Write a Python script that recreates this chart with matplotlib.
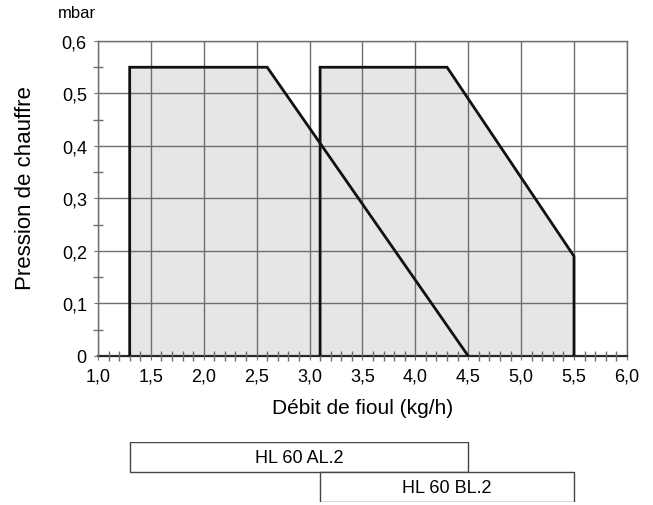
import numpy as np
import matplotlib
matplotlib.use('Agg')
import matplotlib.pyplot as plt
from matplotlib.patches import Polygon, Rectangle
from matplotlib.ticker import MultipleLocator

plt.rcParams['font.family'] = ['Liberation Sans', 'DejaVu Sans']

# working ranges (flow kg/h, pressure mbar)
al_flow = [1.3, 1.3, 2.6, 4.5]
al_press = [0.0, 0.55, 0.55, 0.0]
bl_flow = [3.1, 3.1, 4.3, 5.5, 5.5]
bl_press = [0.0, 0.55, 0.55, 0.19, 0.0]

# burner model bars below the chart
models = ['HL 60 AL.2', 'HL 60 BL.2']
model_start = [1.3, 3.1]
model_end = [4.5, 5.5]

x_ticks = [1.0, 1.5, 2.0, 2.5, 3.0, 3.5, 4.0, 4.5, 5.0, 5.5, 6.0]
x_labels = ['1,0', '1,5', '2,0', '2,5', '3,0', '3,5', '4,0', '4,5', '5,0', '5,5', '6,0']
y_ticks = [0, 0.1, 0.2, 0.3, 0.4, 0.5, 0.6]
y_labels = ['0', '0,1', '0,2', '0,3', '0,4', '0,5', '0,6']

fill_col = '#e5e6e8'
grid_col = '#6e6e6e'

fig = plt.figure(figsize=(6.53, 5.06), dpi=100)
ax = fig.add_axes([0.150, 0.2945, 0.810, 0.6225])

for xs, ys in [(al_flow, al_press), (bl_flow, bl_press)]:
    pts = np.column_stack([xs, ys])
    ax.add_patch(Polygon(pts, closed=False, facecolor=fill_col, edgecolor='none', zorder=1))
for xs, ys in [(al_flow, al_press), (bl_flow, bl_press)]:
    ax.plot(xs, ys, color='#111111', lw=2.0, zorder=3, solid_joinstyle='miter')

ax.set_xlim(1.0, 6.0)
ax.set_ylim(0, 0.6)
ax.set_xticks(x_ticks)
ax.set_xticklabels(x_labels)
ax.set_yticks(y_ticks)
ax.set_yticklabels(y_labels)
ax.xaxis.set_minor_locator(MultipleLocator(0.1))
ax.yaxis.set_minor_locator(MultipleLocator(0.05))
ax.tick_params(axis='both', which='major', labelsize=13, length=3, color=grid_col, pad=5)
ax.tick_params(axis='both', which='minor', direction='inout', length=7, color=grid_col, width=1)
ax.grid(True, which='major', color=grid_col, lw=1.0, zorder=2)
ax.set_axisbelow(False)

for s in ['top', 'right', 'left']:
    ax.spines[s].set_color(grid_col)
    ax.spines[s].set_linewidth(1.0)
ax.spines['bottom'].set_color('#222222')
ax.spines['bottom'].set_linewidth(1.6)

ax.set_xlabel('Débit de fioul (kg/h)', fontsize=15, labelpad=10)
ax.set_ylabel('Pression de chauffre', fontsize=16)
ax.yaxis.set_label_coords(-0.117, 0.535)
fig.text(58 / 653, 1 - 13 / 506, 'mbar', fontsize=12, va='center', ha='left')

# model bars share the x scale of the chart
bx = fig.add_axes([0.150, 0.006, 0.810, 0.118], sharex=ax)
bx.set_ylim(0, 2)
bx.axis('off')
for i, name in enumerate(models):
    y0 = 1 - i
    bx.add_patch(Rectangle((model_start[i], y0), model_end[i] - model_start[i], 1,
                           facecolor='white', edgecolor='#444444', lw=1.0))
    bx.text((model_start[i] + model_end[i]) / 2, y0 + 0.5, name, ha='center', va='center', fontsize=13)

fig.savefig('out.png', dpi=100)
